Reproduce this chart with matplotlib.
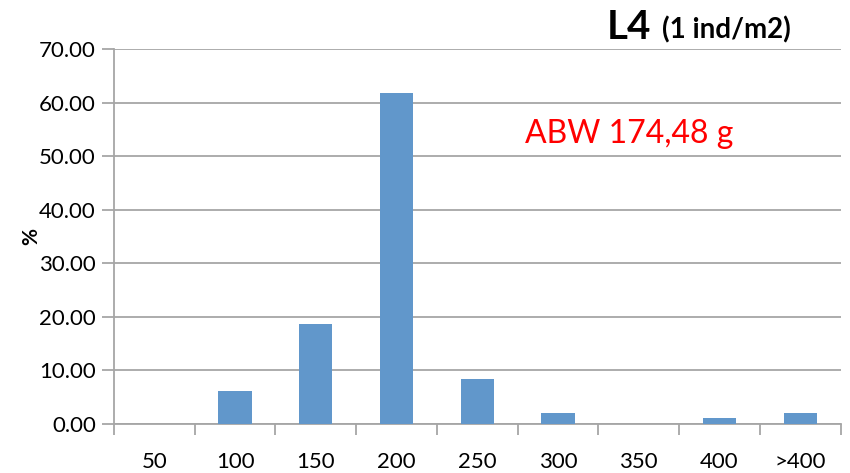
import numpy as np
import matplotlib.pyplot as plt
from matplotlib.ticker import FixedLocator, NullFormatter

plt.rcParams['font.family'] = ['Lato', 'DejaVu Sans']

# weight classes (g) and share of individuals in each class (%)
classes = ["50", "100", "150", "200", "250", "300", "350", "400", ">400"]
percent = [0.0, 6.2, 18.6, 61.9, 8.3, 2.1, 0.0, 1.1, 2.1]
abw_label = "ABW 174,48 g"

grid_col = "#a6a6a6"
bar_col = "#6197cb"

fig = plt.figure(figsize=(8.5, 4.73), dpi=100)
ax = fig.add_axes([0.134, 0.104, 0.855, 0.792])

x = np.arange(len(classes))
ax.bar(x, percent, width=0.41, color=bar_col, zorder=3)

ax.set_xlim(-0.5, len(classes) - 0.5)
ax.set_ylim(0, 70)
ax.set_yticks(np.arange(0, 71, 10))
ax.set_yticklabels([f"{v:.2f}" for v in np.arange(0, 71, 10)], fontsize=16)
ax.yaxis.grid(True, color=grid_col, linewidth=1.3, zorder=0)

# ticks sit between categories, labels in the middle
ax.xaxis.set_major_locator(FixedLocator(np.arange(-0.5, len(classes), 1.0)))
ax.xaxis.set_major_formatter(NullFormatter())
ax.set_xticks(x, minor=True)
ax.set_xticklabels(classes, minor=True, fontsize=16)
ax.tick_params(axis='x', which='minor', length=0, pad=20)
ax.tick_params(axis='x', which='major', length=8, width=1.3, color=grid_col)
ax.tick_params(axis='y', length=9, width=1.3, color=grid_col, pad=4)

for side in ['top', 'right']:
    ax.spines[side].set_visible(False)
for side in ['left', 'bottom']:
    ax.spines[side].set_color(grid_col)
    ax.spines[side].set_linewidth(1.3)

ax.set_ylabel("%", fontsize=15, fontweight='bold')
ax.yaxis.set_label_coords(-0.1, 0.5)

ax.text(0.565, 52.5, abw_label, transform=ax.get_yaxis_transform(),
        color='red', fontsize=23, va='baseline', ha='left')

fig.text(0.714, 0.918, "L4", fontsize=29, fontweight='bold', va='baseline')
fig.text(0.779, 0.918, "(1 ind/m2)", fontsize=20, fontweight='bold', va='baseline')

fig.savefig("out.png", dpi=100)
